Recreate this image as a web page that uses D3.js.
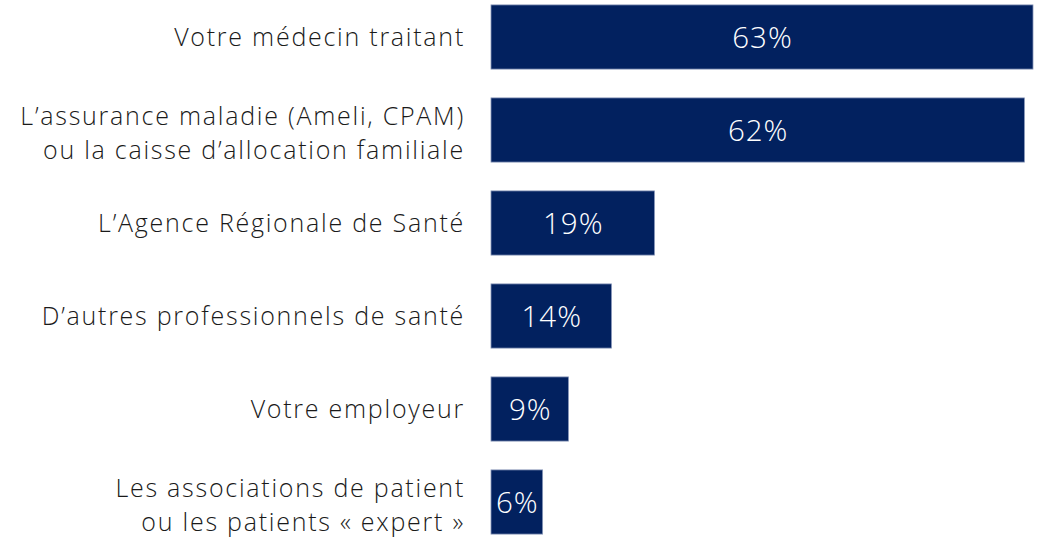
<!DOCTYPE html>
<html>
<head>
<meta charset="utf-8">
<script src="https://cdn.jsdelivr.net/npm/d3@7"></script>
<style>
  body { margin: 0; background: #ffffff; }
  text { font-family: "Open Sans", sans-serif; font-weight: 300; }
</style>
</head>
<body>
<div id="chart"></div>
<script>
// Data
var categories = [
    ["Votre médecin traitant"],
    ["L’assurance maladie (Ameli, CPAM)", "ou la caisse d’allocation familiale"],
    ["L’Agence Régionale de Santé"],
    ["D’autres professionnels de santé"],
    ["Votre employeur"],
    ["Les associations de patient", "ou les patients « expert »"]
];
var values = [63, 62, 19, 14, 9, 6];
var valueLabels = ["63%", "62%", "19%", "14%", "9%", "6%"];

barChart();

function barChart() {
    var w = 1041;
    var h = 540;
    var barLeft = 491;

    var svg = d3.select("#chart")
                .append("svg")
                .attr("width", w)
                .attr("height", h);

    // x scale: 63% reaches x = 1033
    var x = d3.scaleLinear()
              .domain([0, 63])
              .range([barLeft, 1033]);

    var y = d3.scaleBand()
              .domain(d3.range(values.length))
              .range([-9.5, 548.5])
              .paddingInner(0.31)
              .paddingOuter(0.155);

    var rows = svg.selectAll("g.row")
                  .data(values)
                  .enter()
                  .append("g")
                  .attr("class", "row");

    rows.append("rect")
        .attr("x", x(0))
        .attr("y", function(d, i) { return y(i); })
        .attr("width", function(d) { return x(d) - x(0); })
        .attr("height", y.bandwidth())
        .attr("fill", "#02215f")
        .attr("stroke", "#8796b8")
        .attr("stroke-width", 0.8);

    // value labels inside bars
    rows.append("text")
        .attr("x", function(d) { return (x(0) + x(d)) / 2 + 0.5; })
        .attr("y", function(d, i) { return y(i) + y.bandwidth() / 2 + 0.5; })
        .attr("dy", "0.36em")
        .attr("text-anchor", "middle")
        .attr("fill", "#ffffff")
        .attr("font-size", 29.5)
        .attr("letter-spacing", 1)
        .text(function(d, i) { return valueLabels[i]; });

    // category labels
    var lineH = 34;
    rows.append("text")
        .attr("text-anchor", "end")
        .attr("fill", "#1a1a1a")
        .attr("font-size", 25)
        .attr("letter-spacing", 1.75)
        .each(function(d, i) {
            var lines = categories[i];
            var cy = y(i) + y.bandwidth() / 2;
            var top = lines.length > 1 ? cy + 3 - (lines.length - 1) * lineH / 2 : cy;
            d3.select(this).selectAll("tspan")
              .data(lines)
              .enter()
              .append("tspan")
              .attr("x", 465)
              .attr("y", function(l, j) { return top + j * lineH; })
              .attr("dy", "0.36em")
              .text(function(l) { return l; });
        });
}
</script>
</body>
</html>
